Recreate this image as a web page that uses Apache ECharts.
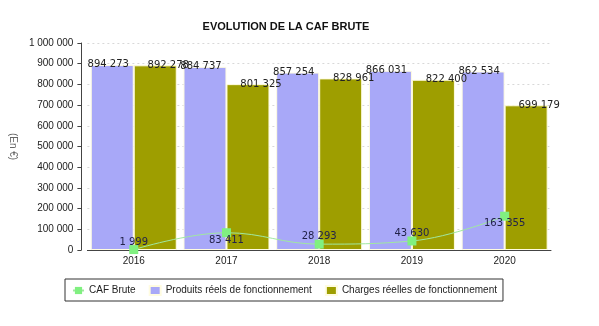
<!DOCTYPE html>
<html><head><meta charset="utf-8">
<script src="https://cdn.jsdelivr.net/npm/echarts@6/dist/echarts.min.js"></script>
<style>html,body{margin:0;padding:0;background:#fff}#c{width:599px;height:326px}</style>
</head><body><div id="c"></div>
<script>
const categories = ['2016', '2017', '2018', '2019', '2020'];
const cafBrute = [1999, 83411, 28293, 43630, 163355];
const produits = [894273, 884737, 857254, 866031, 862534];
const charges = [892278, 801325, 828961, 822400, 699179];
const cafLabelPos = ['top', 'bottom', 'top', 'top', 'bottom'];

function fmt(v) { return String(Math.round(v)).replace(/\B(?=(\d{3})+(?!\d))/g, ' '); }

const chart = echarts.init(document.getElementById('c'), null, {renderer: 'canvas'});
chart.setOption({
  animation: false,
  backgroundColor: '#fff',
  title: {
    text: 'EVOLUTION DE LA CAF BRUTE', left: 281, top: 16, textAlign: 'center',
    textStyle: {fontFamily: 'Liberation Sans', fontSize: 11, fontWeight: 'bold', color: '#111'}
  },
  grid: {left: 87, right: 48, top: 43, bottom: 76},
  legend: {
    left: 65, top: 279,
    borderColor: '#333', borderWidth: 1, padding: [6, 6, 5, 7], itemGap: 13,
    itemWidth: 11, itemHeight: 9,
    textStyle: {fontFamily: 'Liberation Sans', fontSize: 10, color: '#222'},
    data: [
      {name: 'CAF Brute'},
      {name: 'Produits réels de fonctionnement', icon: 'rect'},
      {name: 'Charges réelles de fonctionnement', icon: 'rect'}
    ]
  },
  xAxis: {
    type: 'category', data: categories,
    axisLine: {lineStyle: {color: '#444'}},
    axisTick: {show: false},
    axisLabel: {fontFamily: 'Liberation Sans', fontSize: 10, color: '#222', margin: 6}
  },
  yAxis: {
    type: 'value', min: 0, max: 1000000, interval: 100000, offset: 6,
    name: '(En €)', nameLocation: 'middle', nameGap: 58, nameRotate: -90,
    nameTextStyle: {fontFamily: 'Liberation Sans', fontSize: 10, color: '#666'},
    axisLine: {show: true, lineStyle: {color: '#444'}},
    axisTick: {show: true, length: 4, lineStyle: {color: '#444'}},
    axisLabel: {fontFamily: 'Liberation Sans', fontSize: 10, color: '#222', margin: 8,
      formatter: v => fmt(v)},
    splitLine: {lineStyle: {color: '#d8d8d8', type: [2, 3]}}
  },
  series: [
    {
      name: 'Produits réels de fonctionnement', type: 'bar', data: produits,
      barWidth: 43, barGap: '0%', z: 2,
      itemStyle: {color: '#a8a8f8', borderColor: '#fffce0', borderWidth: 1},
      label: {show: true, position: 'top', distance: -5, offset: [-4, 0],
        fontFamily: 'DejaVu Sans', fontSize: 10, color: '#222', formatter: p => fmt(p.value)}
    },
    {
      name: 'Charges réelles de fonctionnement', type: 'bar', data: charges,
      barWidth: 43, z: 2,
      itemStyle: {color: '#9e9e00', borderColor: '#fffce0', borderWidth: 1},
      label: {show: true, position: 'top', distance: -5, offset: [13, 0],
        fontFamily: 'DejaVu Sans', fontSize: 10, color: '#222', formatter: p => fmt(p.value)}
    },
    {
      name: 'CAF Brute', type: 'line', z: 5, smooth: 0.4,
      data: cafBrute.map((v, i) => ({value: v, label: {position: cafLabelPos[i]}})),
      symbol: 'rect', symbolSize: 9,
      itemStyle: {color: '#80f080'},
      lineStyle: {color: '#a0e8a0', width: 1},
      label: {show: true, distance: -2, fontFamily: 'DejaVu Sans', fontSize: 10, color: '#22224a',
        formatter: p => fmt(p.value)}
    }
  ]
});
</script></body></html>
